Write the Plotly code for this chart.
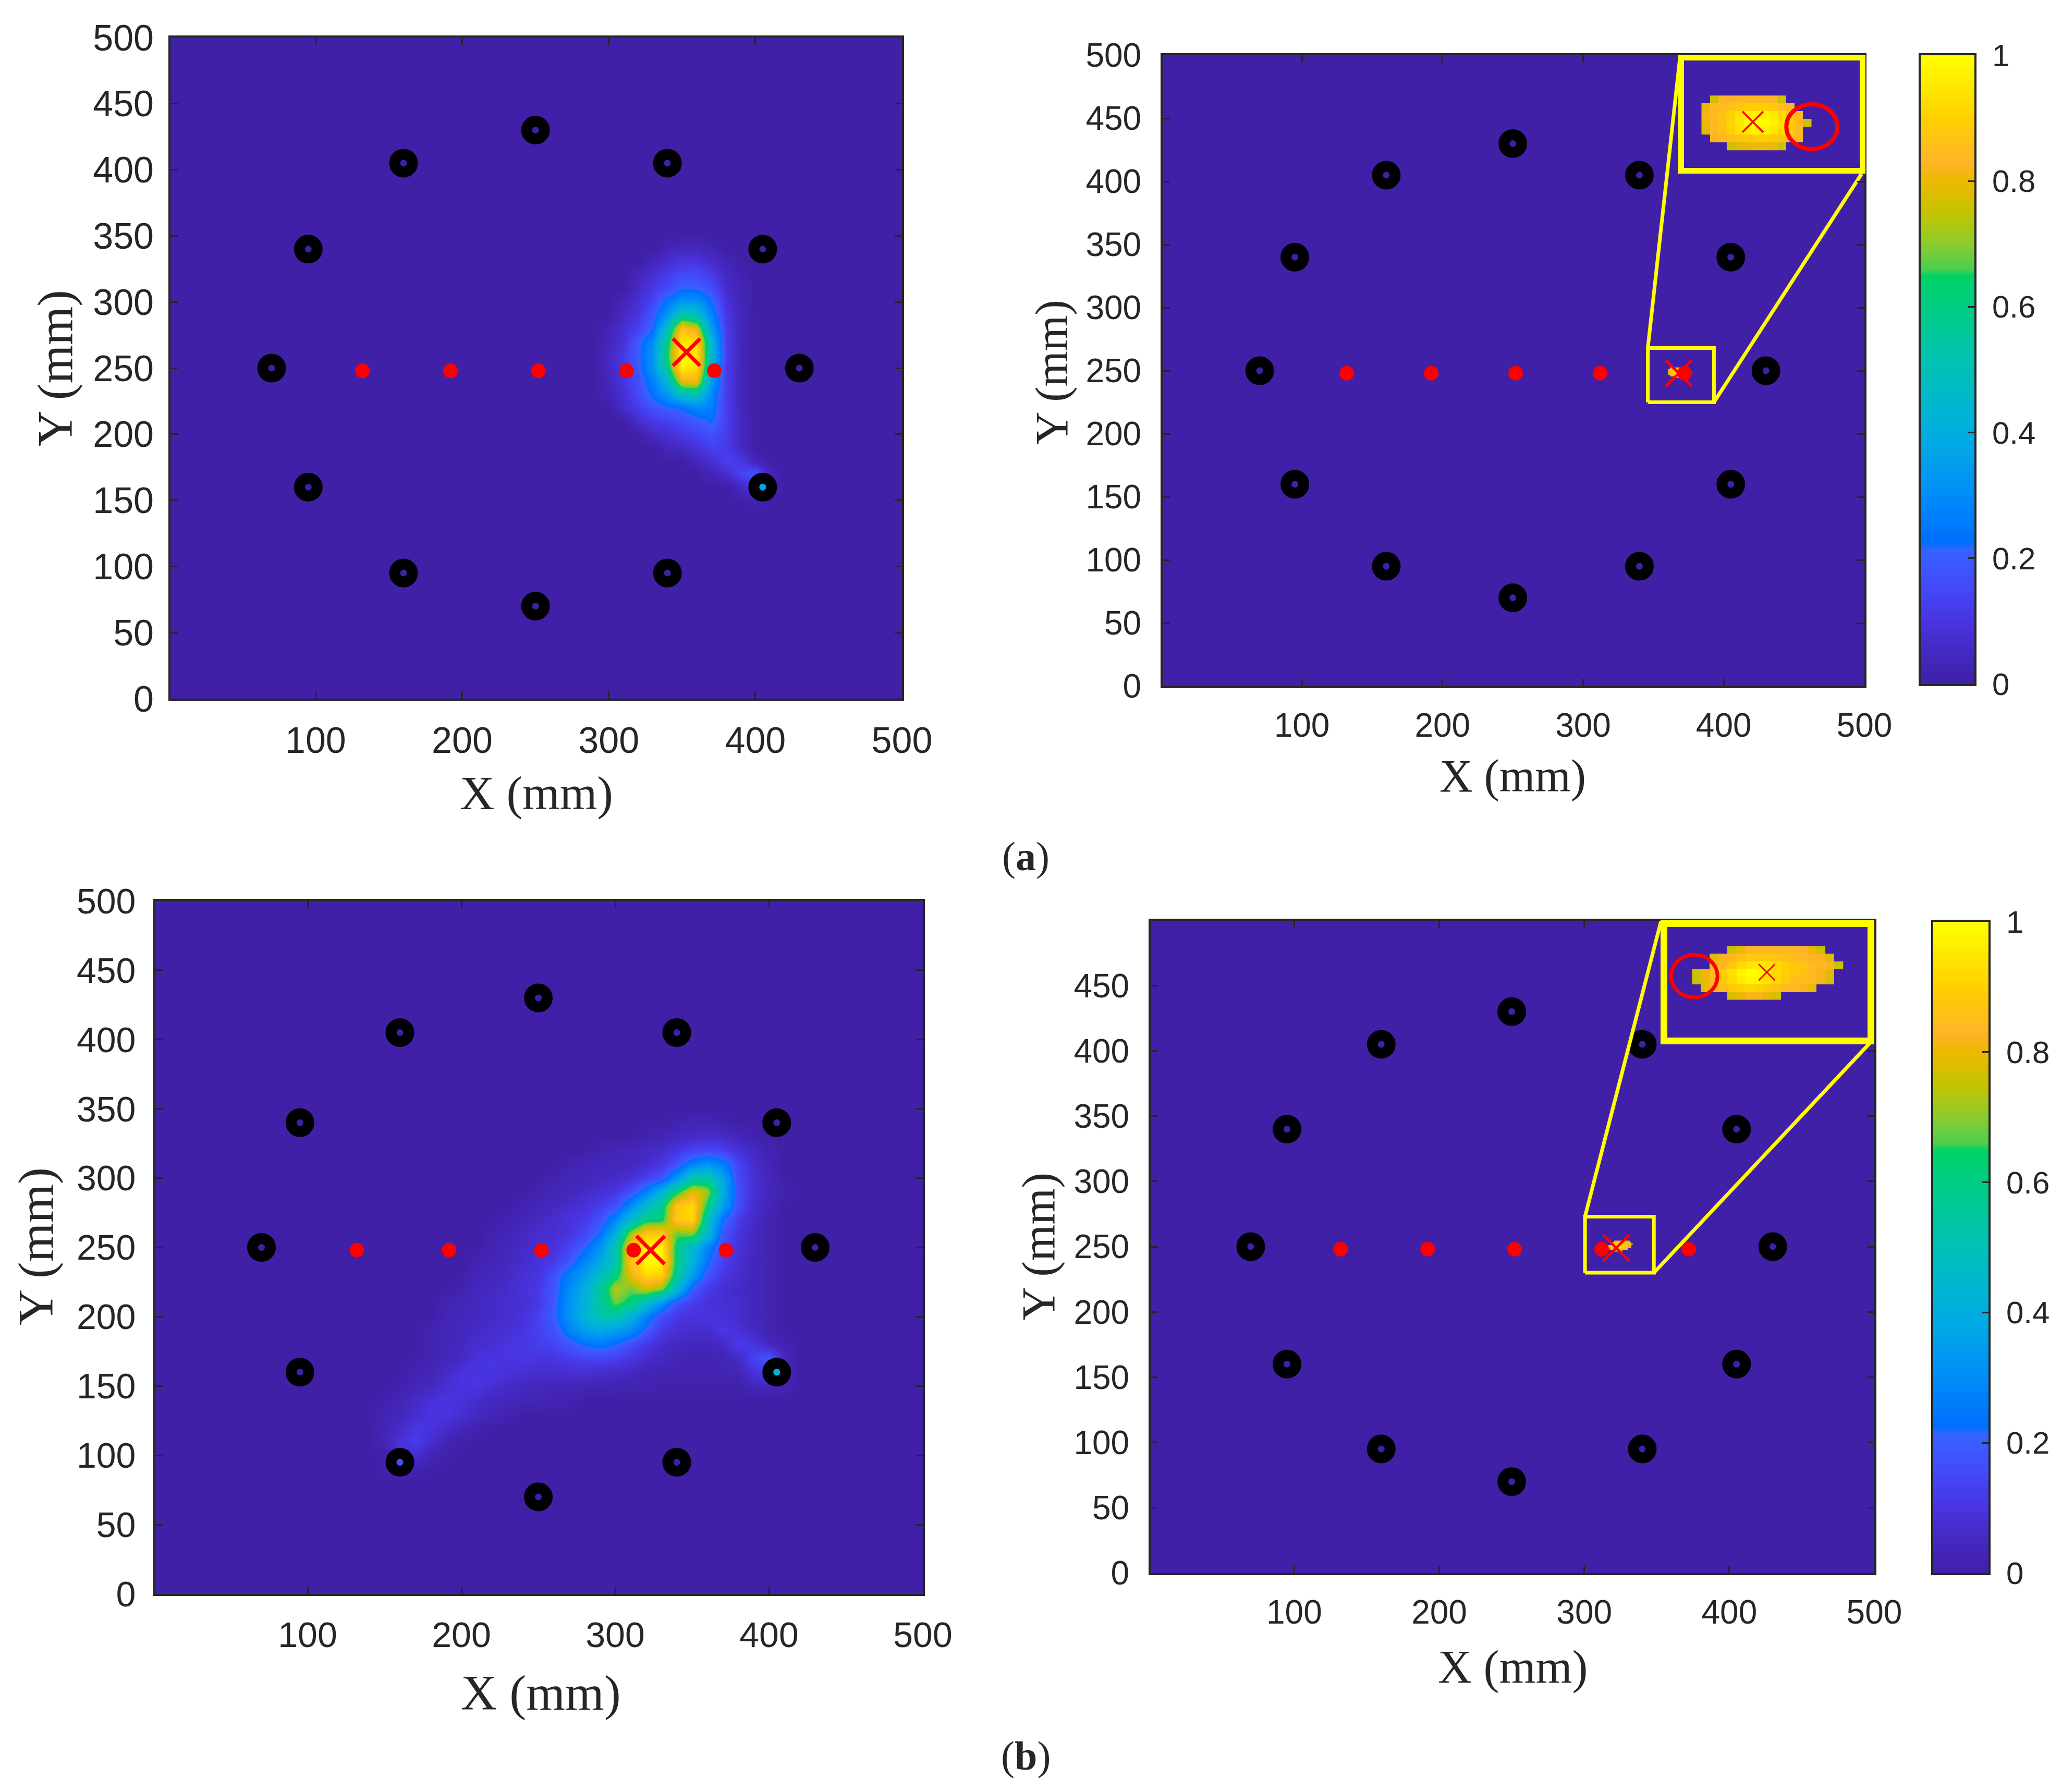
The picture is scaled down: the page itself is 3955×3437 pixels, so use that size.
import numpy as np
import plotly.graph_objects as go

W, H = 3955, 3437

# receivers, emitters (mm)
ring_x = [70, 95, 160, 250, 340, 405, 430, 405, 340, 250, 160, 95]
ring_y = [250, 160, 95, 70, 95, 160, 250, 340, 405, 430, 405, 340]
dot_x = [132, 192, 252, 312, 372]
dot_y = [248, 248, 248, 248, 248]

x_ticks = [100, 200, 300, 400, 500]
y_ticks = [0, 50, 100, 150, 200, 250, 300, 350, 400, 450, 500]
y_ticks_b = [0, 50, 100, 150, 200, 250, 300, 350, 400, 450]
cb_ticks = [0, 0.2, 0.4, 0.6, 0.8, 1]
cb_text = ["0", "0.2", "0.4", "0.6", "0.8", "1"]

# estimated crosses
cross_al = (353, 262)
cross_ar = (368, 248)
cross_bl = (323, 248)
cross_br = (322, 249)
cross_ia = (364.4, 243.4)
cross_ib = (324.1, 255.4)

# value seen through the hole of the lit receivers
hole_al = ([405], [160], [0.38])
hole_bl = ([405, 160], [160, 95], [0.42, 0.17])

# left maps, percent on a 10 mm grid: {Y: (first X, values)}, anything else is 0
rows_al = {
    340: (340, [3, 5, 5, 3]),
    330: (330, [4, 8, 10, 10, 7, 3]),
    320: (320, [4, 8, 12, 16, 16, 12, 5, 2]),
    310: (320, [6, 11, 15, 22, 21, 17, 7, 3]),
    300: (310, [4, 8, 14, 26, 33, 33, 23, 9, 3]),
    290: (310, [6, 10, 19, 33, 55, 50, 28, 11, 4]),
    280: (300, [3, 8, 13, 22, 50, 86, 78, 36, 12, 4]),
    270: (300, [4, 9, 19, 30, 60, 96, 93, 44, 12, 4]),
    260: (300, [5, 11, 20, 33, 63, 100, 95, 46, 13, 4]),
    250: (300, [5, 11, 19, 32, 58, 97, 93, 42, 12, 4]),
    240: (300, [4, 10, 17, 27, 44, 80, 82, 35, 12, 4]),
    230: (300, [3, 8, 15, 24, 33, 48, 50, 29, 12, 4]),
    220: (310, [7, 12, 17, 21, 23, 29, 27, 12, 4]),
    210: (320, [8, 11, 13, 16, 19, 23, 13, 5]),
    200: (330, [6, 8, 11, 14, 17, 12, 5]),
    190: (340, [4, 6, 9, 13, 12, 5]),
    180: (360, [4, 8, 13, 11, 3]),
    170: (370, [3, 7, 14, 18, 3]),
    160: (390, [5, 12, 4]),
    150: (400, [2]),
}

rows_bl = {
    340: (340, [2, 3, 3, 2]),
    330: (320, [2, 3, 5, 6, 7, 6, 4, 2]),
    320: (290, [2, 3, 4, 5, 7, 10, 13, 15, 13, 9, 5, 2]),
    310: (270, [2, 3, 4, 4, 5, 7, 10, 17, 28, 32, 27, 14, 7, 3]),
    300: (260, [2, 3, 4, 5, 6, 8, 13, 18, 33, 52, 55, 38, 15, 8, 4]),
    290: (250, [2, 3, 4, 6, 8, 10, 17, 27, 42, 62, 80, 72, 40, 17, 8, 4, 2]),
    280: (240, [2, 3, 5, 7, 9, 12, 17, 30, 45, 58, 88, 92, 62, 35, 16, 7, 3]),
    270: (230, [2, 3, 5, 7, 9, 11, 17, 28, 45, 60, 62, 88, 92, 50, 23, 12, 6, 2]),
    260: (220, [2, 3, 5, 7, 8, 10, 14, 23, 40, 72, 88, 88, 68, 70, 45, 18, 10, 5, 2]),
    250: (220, [2, 4, 6, 7, 9, 14, 21, 32, 52, 86, 100, 98, 60, 45, 28, 15, 9, 5, 2]),
    240: (210, [2, 3, 5, 7, 9, 11, 18, 28, 38, 52, 86, 100, 98, 60, 42, 24, 13, 8, 4, 2]),
    230: (210, [3, 4, 6, 8, 10, 17, 27, 35, 47, 60, 80, 92, 90, 56, 35, 18, 10, 7, 4, 2]),
    220: (200, [2, 4, 5, 7, 9, 11, 18, 30, 40, 55, 74, 68, 76, 70, 45, 20, 11, 8, 6, 4, 2]),
    210: (190, [2, 3, 5, 6, 7, 8, 11, 19, 32, 42, 55, 68, 62, 48, 32, 17, 12, 9, 8, 7, 4, 2]),
    200: (190, [3, 4, 5, 6, 7, 9, 13, 20, 32, 42, 52, 52, 42, 28, 16, 11, 9, 10, 9, 7, 4, 2]),
    190: (180, [2, 3, 4, 6, 7, 8, 10, 13, 17, 27, 35, 38, 35, 30, 20, 11, 8, 7, 7, 11, 9, 5, 2]),
    180: (180, [2, 3, 5, 7, 8, 10, 11, 12, 14, 18, 23, 25, 22, 16, 11, 7, 5, 4, 4, 5, 12, 10, 5, 2]),
    170: (170, [1, 2, 4, 6, 9, 10, 10, 10, 10, 10, 12, 14, 14, 13, 10, 7, 5, 3, 2, 2, 3, 6, 14, 18, 5]),
    160: (170, [2, 3, 6, 9, 10, 10, 9, 8, 7, 7, 8, 8, 7, 6, 5, 3, 2, 2, 2, 2, 2, 3, 9, 12, 4]),
    150: (160, [1, 3, 5, 8, 10, 10, 8, 6, 5, 4, 4, 3, 3, 3, 2, 2, 2, 1, 1, 1, 1, 1, 1, 4, 4, 2]),
    140: (150, [1, 3, 6, 8, 10, 9, 7, 5, 4, 3, 3, 2, 2]),
    130: (150, [2, 4, 7, 10, 10, 8, 5, 3, 2]),
    120: (150, [3, 6, 10, 10, 7, 4, 2]),
    110: (150, [3, 9, 12, 7, 3, 1]),
    100: (150, [1, 8, 8, 3, 1]),
    90: (150, [1, 3, 2]),
}

# pixelated blobs of the insets, top row first, None = nothing drawn
_ = None
blob_a = [
    [_, .76, .83, .83, .84, .84, .84, .84, .83, .76, _, _, _],
    [.80, .84, .85, .87, .88, .89, .90, .90, .88, .86, .84, _, _],
    [.82, .85, .87, .90, .94, .96, .97, .97, .95, .92, .88, .84, _],
    [.80, .84, .87, .91, .95, .98, 1.0, .99, .97, .94, .90, .84, .76],
    [.78, .84, .86, .90, .94, .96, .97, .97, .95, .92, .88, .84, _],
    [_, .82, .84, .85, .87, .88, .89, .89, .88, .87, .85, .84, _],
    [_, _, _, .76, .78, .80, .81, .81, .80, .76, _, _, _],
]
blob_b = [
    [_, _, _, _, .76, .80, .83, .84, .84, .84, .84, .84, .83, .80, .76, _, _],
    [_, _, .78, .82, .84, .86, .88, .88, .88, .87, .86, .85, .84, .83, .82, .78, _],
    [_, _, .82, .84, .88, .92, .95, .96, .95, .92, .90, .88, .87, .85, .84, .82, .76],
    [.76, .80, .85, .89, .94, .98, 1.0, .99, .95, .92, .90, .88, .86, .84, .82, .78, _],
    [.75, .80, .84, .88, .92, .96, .98, .97, .94, .91, .88, .86, .85, .84, .82, .78, _],
    [_, .80, .83, .85, .88, .90, .91, .90, .88, .86, .85, .84, .82, .80, _, _, _],
    [_, _, _, _, .77, .80, .82, .82, .80, .77, _, _, _, _, _, _, _],
]
# blob cell centres (mm): in the inset and where it lies in the main map
blob_a_x = [351.8 + 2.26 * i for i in range(13)]
blob_a_y = [252.4 - 3.13 * i for i in range(7)]
blob_b_x = [307.4 + 2.11 * i for i in range(17)]
blob_b_y = [264.1 - 2.99 * i for i in range(7)]
tiny_a_x = [361 + 1.3 * i for i in range(13)]
tiny_a_y = [252 - 1.2 * i for i in range(7)]
tiny_b_x = [317 + 1.0 * i for i in range(17)]
tiny_b_y = [254 - 1.2 * i for i in range(7)]

# zoom boxes and leader lines (mm)
box_a_x, box_a_y = [346, 393], [225, 268]
box_b_x, box_b_y = [300.5, 348], [230, 273]
lead_a = [(346, 268), (369, 499.5), (393, 225), (498, 406)]
lead_b = [(300.5, 273), (353, 499.5), (348, 230), (497, 406)]
ell_a = (380.2, 241.5, 6.83, 8.98)
ell_b = (306.9, 253.9, 5.5, 8.3)

scale = [
    [0.0, "#4120a8"], [0.05, "#4428c0"], [0.1, "#4834e0"], [0.15, "#4348f8"],
    [0.2, "#3a5cff"], [0.215, "#2f66ff"], [0.225, "#006eff"], [0.3, "#008cf8"],
    [0.4, "#00aee0"], [0.5, "#00c0b8"], [0.6, "#00cc84"], [0.65, "#00d262"],
    [0.66, "#4ccf4c"], [0.7, "#8ccb30"], [0.75, "#c4c400"], [0.8, "#ecb800"],
    [0.83, "#ffb428"], [0.9, "#ffd000"], [1.0, "#ffff00"],
]
DARK = "#262626"
BG = "#4120a8"
YEL = "#ffff00"
SANS = "Liberation Sans"
SERIF = "Liberation Serif"


def fx(px):
    return px / W


def fy(py):
    return 1 - py / H


def grid(rows):
    z = np.zeros((51, 51))
    for y, (x0, vals) in rows.items():
        i = x0 // 10
        z[y // 10, i:i + len(vals)] = np.array(vals) / 100
    return z


fig = go.Figure()
layout = {}
shapes = []


def add_axes(n, box, xr, yr, yt, size, y_off=24):
    l, r, t, b = box
    layout[f"xaxis{n}"] = dict(
        domain=[fx(l), fx(r)], range=xr, anchor=f"y{n}", tickvals=x_ticks, ticks="inside",
        ticklen=14, tickwidth=3, tickcolor=DARK, showline=True, linecolor=DARK, linewidth=4,
        mirror="ticks", showgrid=False, zeroline=False, ticklabelstandoff=16,
        tickfont=dict(family=SANS, size=size, color=DARK),
    )
    layout[f"yaxis{n}"] = dict(
        domain=[fy(b), fy(t)], range=yr, anchor=f"x{n}", tickvals=yt, ticks="inside",
        ticklen=14, tickwidth=3, tickcolor=DARK, showline=True, linecolor=DARK, linewidth=4,
        mirror="ticks", showgrid=False, zeroline=False, ticklabelstandoff=y_off,
        tickfont=dict(family=SANS, size=size, color=DARK),
    )


def add_inset(n, box, xr, yr, lw):
    # frame lines sit outside the domain, so box is the inner edge of the frame
    l, r, t, b = box
    layout[f"xaxis{n}"] = dict(domain=[fx(l), fx(r)], range=xr, anchor=f"y{n}", showticklabels=False,
                               ticks="", showgrid=False, zeroline=False, showline=True, mirror=True,
                               linecolor=YEL, linewidth=lw)
    layout[f"yaxis{n}"] = dict(domain=[fy(b), fy(t)], range=yr, anchor=f"x{n}", showticklabels=False,
                               ticks="", showgrid=False, zeroline=False, showline=True, mirror=True,
                               linecolor=YEL, linewidth=lw)


def add_colorbar(n, box, size):
    # the bar is its own small heatmap so it does not push the margins
    l, r, t, b = box
    vals = np.linspace(0, 1, 400)
    fig.add_trace(go.Heatmap(x=[0, 1], y=vals, z=[[v, v] for v in vals], zmin=0, zmax=1, colorscale=scale,
                             zsmooth="best", showscale=False, hoverinfo="skip", xaxis=f"x{n}", yaxis=f"y{n}"))
    layout[f"xaxis{n}"] = dict(domain=[fx(l), fx(r)], range=[0, 1], anchor=f"y{n}", showticklabels=False,
                               ticks="", showgrid=False, zeroline=False, showline=True, mirror=True,
                               linecolor=DARK, linewidth=4)
    layout[f"yaxis{n}"] = dict(domain=[fy(b), fy(t)], range=[0, 1], anchor=f"x{n}", side="right", tickvals=cb_ticks,
                               ticktext=cb_text, ticks="inside", ticklen=12, tickwidth=3, tickcolor=DARK,
                               showgrid=False, zeroline=False, showline=True, mirror=True, linecolor=DARK,
                               linewidth=4, ticklabelstandoff=18, tickfont=dict(family=SANS, size=size, color=DARK))


def markers(n, cross, cross_size, cross_w, hole=None):
    ax = dict(xaxis=f"x{n}", yaxis=f"y{n}", showlegend=False, hoverinfo="skip")
    fig.add_trace(go.Scatter(x=ring_x, y=ring_y, mode="markers",
                             marker=dict(symbol="circle-open", size=34, color="black", line=dict(width=21, color="black")), **ax))
    if hole:
        fig.add_trace(go.Scatter(x=hole[0], y=hole[1], mode="markers",
                                 marker=dict(size=13, color=hole[2], cmin=0, cmax=1, colorscale=scale), **ax))
    fig.add_trace(go.Scatter(x=dot_x, y=dot_y, mode="markers", marker=dict(size=28, color="#ff0000"), **ax))
    fig.add_trace(go.Scatter(x=[cross[0]], y=[cross[1]], mode="markers",
                             marker=dict(symbol="x-thin", size=cross_size, line=dict(width=cross_w, color="#ff0000")), **ax))


def smooth_map(n, rows):
    fig.add_trace(go.Heatmap(x=list(range(0, 501, 10)), y=list(range(0, 501, 10)), z=grid(rows), zmin=0, zmax=1,
                             colorscale=scale, zsmooth="best", showscale=False, hoverinfo="skip",
                             xaxis=f"x{n}", yaxis=f"y{n}"))


def blob(n, xs, ys, z):
    fig.add_trace(go.Heatmap(x=xs, y=ys, z=z, zmin=0, zmax=1, colorscale=scale, zsmooth=False, hoverinfo="skip",
                             showscale=False, xaxis=f"x{n}", yaxis=f"y{n}"))


def leaders(n, box_x, box_y, lead):
    ax = dict(xaxis=f"x{n}", yaxis=f"y{n}", showlegend=False, hoverinfo="skip", mode="lines", cliponaxis=False)
    fig.add_trace(go.Scatter(x=[box_x[0], box_x[1], box_x[1], box_x[0], box_x[0]],
                             y=[box_y[0], box_y[0], box_y[1], box_y[1], box_y[0]],
                             line=dict(color=YEL, width=7), **ax))
    fig.add_trace(go.Scatter(x=[lead[0][0], lead[1][0]], y=[lead[0][1], lead[1][1]], line=dict(color=YEL, width=7), **ax))
    fig.add_trace(go.Scatter(x=[lead[2][0], lead[3][0]], y=[lead[2][1], lead[3][1]], line=dict(color=YEL, width=7), **ax))


def inset_marks(n, cross, size, w, ell, lw):
    fig.add_trace(go.Scatter(x=[cross[0]], y=[cross[1]], mode="markers", showlegend=False, hoverinfo="skip",
                             marker=dict(symbol="x-thin", size=size, line=dict(width=w, color="#ff0000")),
                             xaxis=f"x{n}", yaxis=f"y{n}"))
    shapes.append(dict(type="circle", xref=f"x{n}", yref=f"y{n}", x0=ell[0] - ell[2], x1=ell[0] + ell[2],
                       y0=ell[1] - ell[3], y1=ell[1] + ell[3], line=dict(color="#ff0000", width=lw)))


# (a) left
add_axes("", (327, 1730, 72, 1340), [1, 500], [0, 500], y_ticks, 70, y_off=14)
smooth_map("", rows_al)
markers("", cross_al, 52, 7, hole_al)

# (a) right
add_axes(2, (2230, 3576, 106, 1316), [1, 500], [0, 500], y_ticks, 64)
blob(2, tiny_a_x, tiny_a_y, blob_a)
markers(2, cross_ar, 50, 5)
leaders(2, box_a_x, box_a_y, lead_a)
add_inset(3, (3230, 3567, 116, 322), box_a_x, box_a_y, 11)
blob(3, blob_a_x, blob_a_y, blob_a)
inset_marks(3, cross_ia, 40, 3.5, ell_a, 8)
add_colorbar(4, (3684, 3787, 106, 1312), 60)

# (b) left
add_axes(5, (298, 1770, 1728, 3057), [1, 500], [0, 500], y_ticks, 68, y_off=20)
smooth_map(5, rows_bl)
markers(5, cross_bl, 54, 7, hole_bl)

# (b) right
add_axes(6, (2207, 3595, 1766, 3017), [1, 500], [0, 499.6], y_ticks_b, 64)
blob(6, tiny_b_x, tiny_b_y, blob_b)
markers(6, cross_br, 50, 5)
leaders(6, box_b_x, box_b_y, lead_b)
add_inset(7, (3198, 3582, 1778, 1990), box_b_x, box_b_y, 13)
blob(7, blob_b_x, blob_b_y, blob_b)
inset_marks(7, cross_ib, 31, 3, ell_b, 7)
add_colorbar(8, (3708, 3814, 1768, 3017), 60)


def label(text, px, py, size, family=SERIF, angle=0):
    return dict(text=text, x=fx(px), y=fy(py), xref="paper", yref="paper", showarrow=False, textangle=angle,
                xanchor="center", yanchor="middle", font=dict(family=family, size=size, color=DARK))


annotations = [
    label("X (mm)", 1029, 1521, 92), label("Y (mm)", 106, 706, 95, angle=-90),
    label("X (mm)", 2901, 1488, 88), label("Y (mm)", 2018, 714, 88, angle=-90),
    label("X (mm)", 1037, 3246, 96), label("Y (mm)", 68, 2391, 96, angle=-90),
    label("X (mm)", 2901, 3198, 90), label("Y (mm)", 1993, 2391, 90, angle=-90),
    label("(<b>a</b>)", 1967, 1642, 78), label("(<b>b</b>)", 1967, 3367, 78),
]

# "none" template: the default one turns automargin on, which shifts every panel
fig.update_layout(template="none", width=W, height=H, margin=dict(l=0, r=0, t=0, b=0), paper_bgcolor="white",
                  plot_bgcolor=BG, showlegend=False, annotations=annotations, shapes=shapes, **layout)
fig.write_html("out.html", config=dict(displayModeBar=False), post_script="document.body.style.margin='0';")
